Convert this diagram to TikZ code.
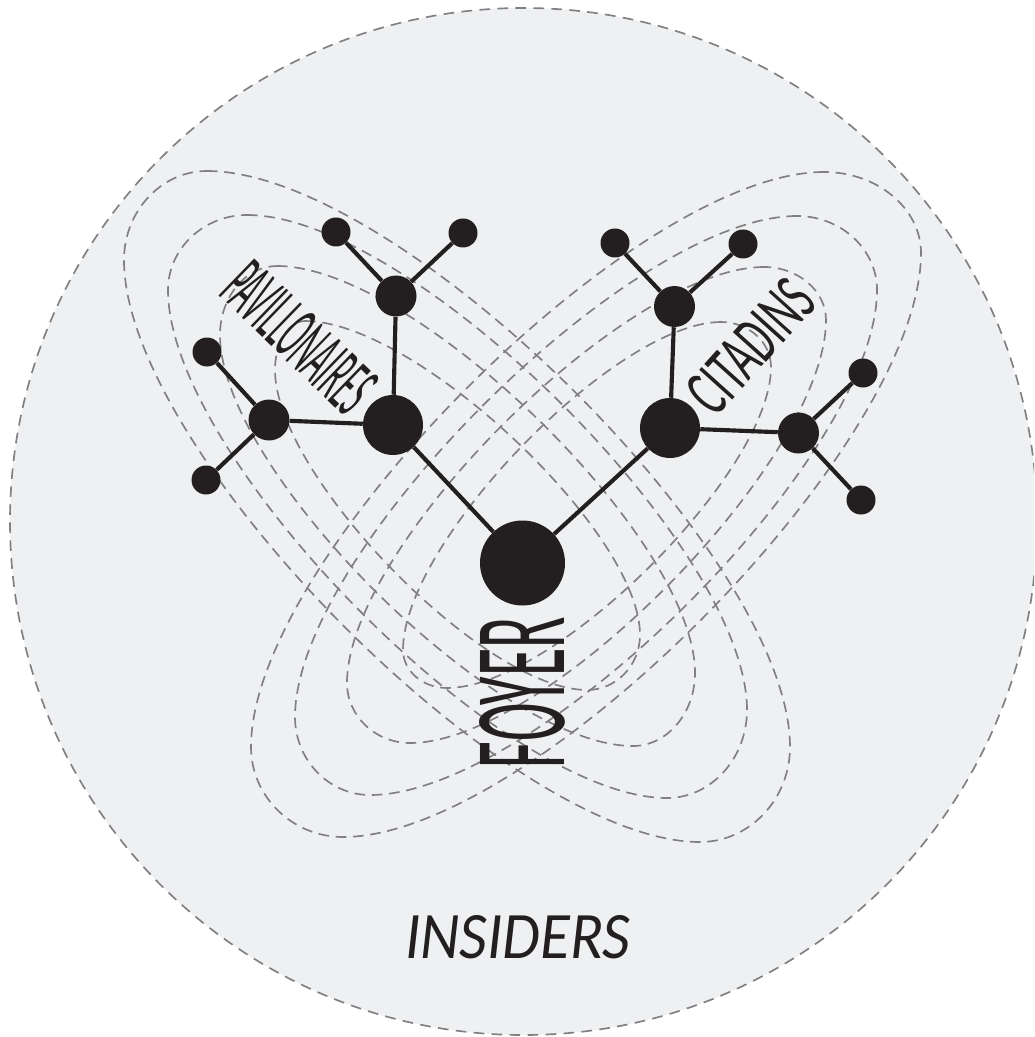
\documentclass[tikz,border=0pt]{standalone}
\usepackage{fontspec}
\setmainfont{Carlito}
\usepackage{graphicx}
\definecolor{ink}{HTML}{231F20}
\definecolor{bgfill}{HTML}{EFF0F2}
\definecolor{dashgray}{HTML}{808082}
\def\kk{0.33}
\newcommand\drawlobe[8]{%
  \draw[loopline] (#1,#2) .. controls ({#1+\kk*(#5-#1)},#2) and (#5,{#6-\kk*(#6-#2)}) .. (#5,#6)
    .. controls (#5,{#6+0.55*(#8-#6)}) and ({#7+0.55*(#5-#7)},#8) .. (#7,#8)
    .. controls ({#7+\kk*(#3-#7)},#8) and (#3,{#4+\kk*(#8-#4)}) .. (#3,#4)
    .. controls (#3,{#4-0.55*(#4-#2)}) and ({#1+0.55*(#3-#1)},#2) .. cycle;}
\tikzset{
  loopline/.style={draw=dashgray, line width=1.25pt, dash pattern=on 8pt off 5pt},
  rim/.style={draw=dashgray, fill=bgfill, line width=1.25pt, dash pattern=on 8pt off 5.5pt},
  hub/.style={circle, fill=ink, inner sep=0pt, minimum size=63.75pt},
  bigdot/.style={circle, fill=ink, inner sep=0pt, minimum size=45pt},
  middot/.style={circle, fill=ink, inner sep=0pt, minimum size=30.75pt},
  leafdot/.style={circle, fill=ink, inner sep=0pt, minimum size=21.75pt},
  branch/.style={draw=ink, line width=3.1pt},
  lbl/.style={inner sep=0pt, text=ink},
}
\begin{document}
\begin{tikzpicture}[x=0.75pt,y=-0.75pt]
\useasboundingbox (0,0) rectangle (1034,1037);
\clip (0,0) rectangle (1034,1037);
\path[rim] (523.5,521.5) circle (513.5);

% left lobes
\drawlobe{207}{171}{124}{260}{790}{747}{700}{842}
\drawlobe{247}{215}{168}{290}{747}{710}{667}{798}
\drawlobe{277}{266}{220}{335}{695}{673}{633}{746}
\drawlobe{305}{321}{275}{370}{640}{635}{587}{690}
% right lobes
\drawlobe{824}{172}{921}{253}{251}{747}{343}{837}
\drawlobe{797}{216}{877}{290}{295}{717}{370}{795}
\drawlobe{764}{267}{826}{320}{347}{683}{410}{743}
\drawlobe{721}{322}{771}{367}{403}{650}{447}{688}

% tree nodes
\node[hub] (F) at (522.5,563) {};
\node[bigdot] (P) at (393,425) {};
\node[bigdot] (C) at (670,428) {};
\node[middot] (P1) at (396,296) {};
\node[middot] (P2) at (269,420) {};
\node[middot] (C1) at (674.5,306.5) {};
\node[middot] (C2) at (798.5,433) {};
\node[leafdot] (p1a) at (336,232) {};
\node[leafdot] (p1b) at (463,233) {};
\node[leafdot] (p2a) at (207,352) {};
\node[leafdot] (p2b) at (206,480) {};
\node[leafdot] (c1a) at (615,243) {};
\node[leafdot] (c1b) at (743,244) {};
\node[leafdot] (c2a) at (863,373) {};
\node[leafdot] (c2b) at (861,500) {};

\draw[branch] (F) -- (P);
\draw[branch] (F) -- (C);
\draw[branch] (P) -- (P1);
\draw[branch] (P) -- (P2);
\draw[branch] (P1) -- (p1a);
\draw[branch] (P1) -- (p1b);
\draw[branch] (P2) -- (p2a);
\draw[branch] (P2) -- (p2b);
\draw[branch] (C) -- (C1);
\draw[branch] (C) -- (C2);
\draw[branch] (C1) -- (c1a);
\draw[branch] (C1) -- (c1b);
\draw[branch] (C2) -- (c2a);
\draw[branch] (C2) -- (c2b);

% labels
\node[lbl, rotate=90] (foyer) at (522.5,692.5) {\resizebox{113.25pt}{63.75pt}{FOYER}};
\node[lbl, rotate=-44] (pav) at (299.4,337.4) {\resizebox{133.5pt}{39pt}{PAVILLONAIRES}};
\node[lbl, rotate=48] (cit) at (750.6,346.3) {\resizebox{115.5pt}{33.75pt}{CITADINS}};
\node[lbl] (ins) at (517.5,937.7) {\resizebox{168.75pt}{32.25pt}{\itshape INSIDERS}};
\end{tikzpicture}
\end{document}
